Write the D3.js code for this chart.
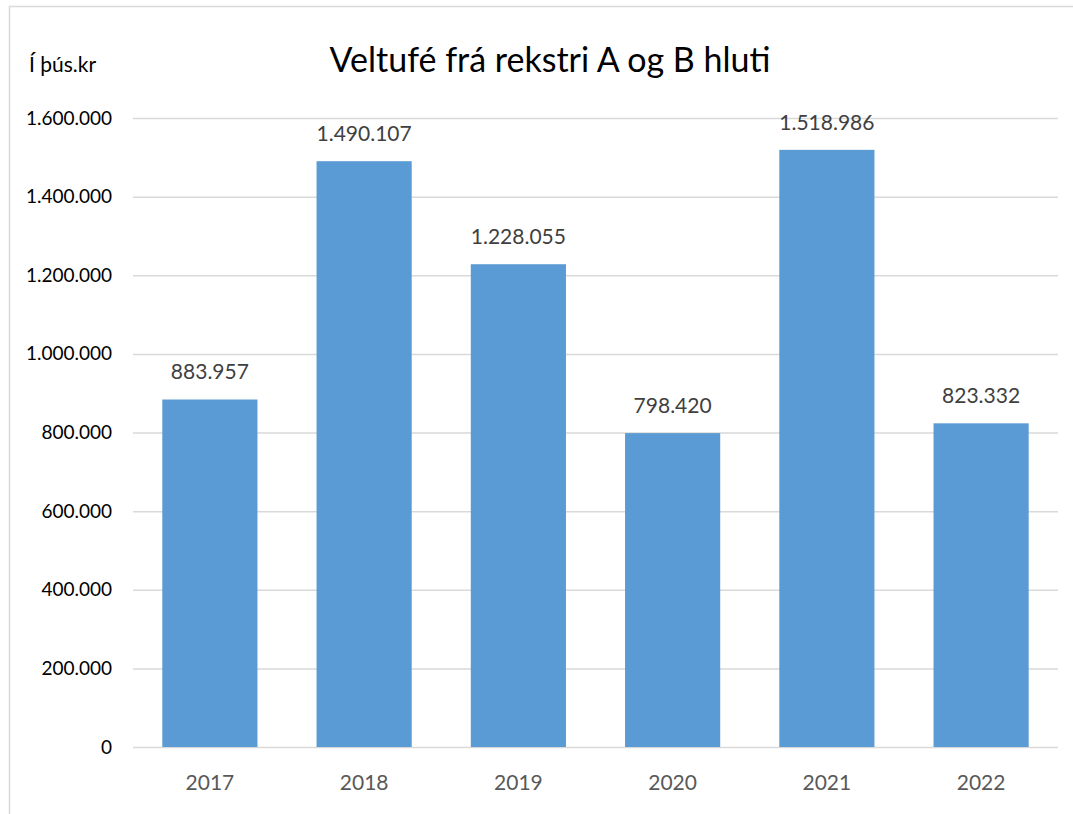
<!DOCTYPE html>
<html>
<head>
<meta charset="utf-8">
<script src="https://cdn.jsdelivr.net/npm/d3@7"></script>
<style>
  body { margin: 0; background: #fff; }
  text { font-family: Lato, "Open Sans", sans-serif; }
</style>
</head>
<body>
<div id="chart"></div>
<script>
// chart values
var years = ["2017", "2018", "2019", "2020", "2021", "2022"];
var values = [883957, 1490107, 1228055, 798420, 1518986, 823332];
var yTicks = [0, 200000, 400000, 600000, 800000, 1000000, 1200000, 1400000, 1600000];

var svgWidth = 1073;
var svgHeight = 814;

var margin = { top: 118, right: 15, bottom: 67, left: 133 };
var width = svgWidth - margin.left - margin.right;
var height = svgHeight - margin.top - margin.bottom;

// number format with dots as thousands separator
var fmt = d3.formatLocale({ decimal: ",", thousands: ".", grouping: [3], currency: ["", ""] }).format(",d");

var svg = d3.select("#chart")
  .append("svg")
  .attr("width", svgWidth)
  .attr("height", svgHeight);

// outer border (continues off the picture right and bottom)
svg.append("rect")
  .attr("x", 9.5)
  .attr("y", 6.5)
  .attr("width", svgWidth + 20)
  .attr("height", svgHeight + 20)
  .attr("fill", "none")
  .attr("stroke", "#d9d9d9")
  .attr("stroke-width", 1.5);

var chartGroup = svg.append("g")
  .attr("transform", `translate(${margin.left}, ${margin.top})`);

var xScale = d3.scaleBand()
  .domain(years)
  .range([0, width])
  .paddingInner(0.383)
  .paddingOuter(0.19);

var yScale = d3.scaleLinear()
  .domain([0, 1600000])
  .range([height, 0]);

// gridlines + y labels
var yAxis = d3.axisLeft(yScale)
  .tickValues(yTicks)
  .tickSize(-width)
  .tickPadding(21)
  .tickFormat(fmt);

var yG = chartGroup.append("g").call(yAxis);
yG.select(".domain").remove();
yG.selectAll(".tick line").attr("stroke", "#d9d9d9").attr("stroke-width", 1.5);
yG.selectAll(".tick text")
  .attr("fill", "#000")
  .style("font-size", "19px");

// bars
chartGroup.selectAll("rect.bar")
  .data(values)
  .enter()
  .append("rect")
  .attr("class", "bar")
  .attr("x", (d, i) => xScale(years[i]))
  .attr("y", d => yScale(d))
  .attr("width", xScale.bandwidth())
  .attr("height", d => height - yScale(d))
  .attr("fill", "#5b9bd5");

// data labels
chartGroup.selectAll("text.val")
  .data(values)
  .enter()
  .append("text")
  .attr("class", "val")
  .attr("x", (d, i) => xScale(years[i]) + xScale.bandwidth() / 2)
  .attr("y", d => yScale(d) - 20)
  .attr("text-anchor", "middle")
  .attr("fill", "#404040")
  .style("font-size", "21px")
  .text(d => fmt(d));

// x axis labels
var xAxis = d3.axisBottom(xScale).tickSize(0).tickPadding(28);
var xG = chartGroup.append("g")
  .attr("transform", `translate(0, ${height})`)
  .call(xAxis);
xG.select(".domain").remove();
xG.selectAll(".tick text")
  .attr("fill", "#595959")
  .style("font-size", "21px");

// title
svg.append("text")
  .attr("x", 550)
  .attr("y", 72)
  .attr("text-anchor", "middle")
  .attr("fill", "#000")
  .style("font-size", "34px")
  .text("Veltufé frá rekstri A og B hluti");

// unit label
svg.append("text")
  .attr("x", 29)
  .attr("y", 72)
  .attr("fill", "#000")
  .style("font-size", "21px")
  .text("Í þús.kr");
</script>
</body>
</html>
